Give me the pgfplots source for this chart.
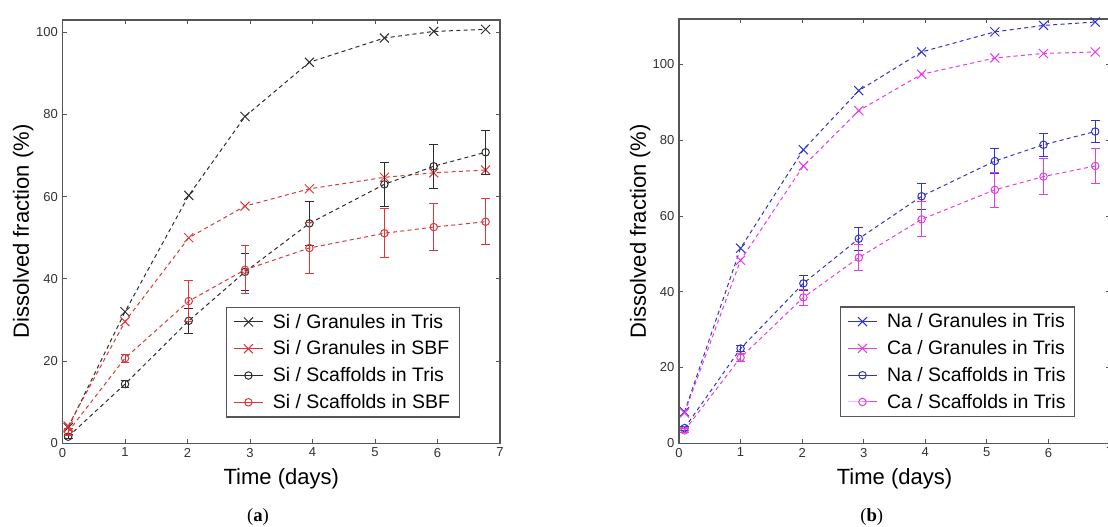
\documentclass[border=0pt]{standalone}
\usepackage{fontspec}
\setmainfont{Liberation Sans}
\newfontfamily\capfont{Liberation Serif}
\usepackage{pgfplots}
\pgfplotsset{compat=1.18}

\definecolor{axgray}{RGB}{85,85,85}
\definecolor{lblgray}{RGB}{50,50,50}
\definecolor{cblack}{RGB}{45,45,45}
\definecolor{cred}{RGB}{222,55,55}
\definecolor{cblue}{RGB}{50,50,205}
\definecolor{cmag}{RGB}{228,60,228}

\pgfplotsset{
  dissax/.style={
    scale only axis,
    xmin=0, xmax=7, ymin=0,
    xtick={0,1,...,7}, ytick={0,20,...,100},
    tick align=inside, major tick length=3pt,
    axis line style={draw=axgray, line width=0.9pt},
    every tick/.style={axgray, line width=0.7pt},
    tick label style={font=\fontsize{9.75}{11}\selectfont, text=lblgray},
    /pgf/number format/assume math mode=true,
    xlabel={Time (days)}, ylabel={Dissolved fraction (\%)},
    label style={font=\fontsize{16.5}{19}\selectfont},
    xlabel style={at={(axis description cs:0.5,-0.083)}, anchor=center},
    ylabel style={at={(axis description cs:-0.09,0.5)}, anchor=center},
    clip mode=individual,
    legend style={at={(0.3737,0.3227)}, anchor=north west, draw=axgray,
      line width=0.9pt, font=\fontsize{14.6}{17}\selectfont,
      row sep=4pt, column sep=5pt, inner xsep=5pt, inner ysep=3pt},
    legend cell align=left,
    legend image code/.code={
      \draw[solid, mark repeat=2, mark phase=2]
        plot coordinates {(0pt,0pt) (11pt,0pt) (22pt,0pt)};},
  },
  ser/.style={color=#1, line width=0.75pt, dash pattern=on 3pt off 2.5pt,
    mark options={solid, line width=0.75pt}},
  serx/.style={ser=#1, mark=x, mark size=4.8pt},
  sero/.style={ser=#1, mark=o, mark size=2.8pt,
    error bars/y dir=both, error bars/y explicit,
    error bars/error mark=-,
    error bars/error bar style={solid, line width=0.75pt, draw=#1},
    error bars/error mark options={solid, rotate=90, mark size=3.3pt,
      line width=0.75pt, draw=#1}},
}

\begin{document}
\begin{tikzpicture}
\useasboundingbox (0,0) rectangle (831pt,395.25pt);
\clip (0,0) rectangle (831pt,395.25pt);

% (a) silicon release
\begin{axis}[dissax, at={(46.9pt,62.8pt)}, anchor=south west,
  width=328.1pt, height=317.5pt, ymax=103]
\addplot[serx=cblack] coordinates {
  (0.09,3.8) (1.0,32.0) (2.02,60.3) (2.92,79.5) (3.95,92.7) (5.15,98.6) (5.94,100.2) (6.77,100.7)};
\addlegendentry{Si / Granules in Tris}
\addplot[serx=cred] coordinates {
  (0.09,4.2) (1.0,29.6) (2.02,50.0) (2.92,57.7) (3.95,61.9) (5.15,64.7) (5.94,65.8) (6.77,66.5)};
\addlegendentry{Si / Granules in SBF}
\addplot[sero=cblack] coordinates {
  (0.09,1.6) +- (0,0.5) (1.0,14.4) +- (0,0.8) (2.02,29.8) +- (0,3.0) (2.92,41.7) +- (0,4.5)
  (3.95,53.5) +- (0,5.3) (5.15,63.0) +- (0,5.4) (5.94,67.4) +- (0,5.3) (6.77,70.8) +- (0,5.4)};
\addlegendentry{Si / Scaffolds in Tris}
\addplot[sero=cred] coordinates {
  (0.09,2.8) +- (0,0.8) (1.0,20.7) +- (0,1.0) (2.02,34.6) +- (0,4.9) (2.92,42.2) +- (0,5.8)
  (3.95,47.5) +- (0,6.1) (5.15,51.1) +- (0,5.9) (5.94,52.6) +- (0,5.7) (6.77,53.9) +- (0,5.6)};
\addlegendentry{Si / Scaffolds in SBF}
\end{axis}

% (b) sodium and calcium release
\begin{axis}[dissax, at={(509.25pt,62.8pt)}, anchor=south west,
  width=323.25pt, height=318.2pt, ymax=112]
\addplot[serx=cblue] coordinates {
  (0.09,8.3) (1.0,51.5) (2.02,77.5) (2.92,93.1) (3.94,103.3) (5.13,108.6) (5.92,110.3) (6.76,111.2)};
\addlegendentry{Na / Granules in Tris}
\addplot[serx=cmag] coordinates {
  (0.09,8.0) (1.0,48.3) (2.02,73.2) (2.92,87.8) (3.94,97.4) (5.13,101.7) (5.92,102.9) (6.76,103.3)};
\addlegendentry{Ca / Granules in Tris}
\addplot[sero=cblue] coordinates {
  (0.09,4.0) +- (0,0.5) (1.0,25.0) +- (0,0.8) (2.02,42.2) +- (0,2.0) (2.92,54.0) +- (0,3.0)
  (3.94,65.2) +- (0,3.4) (5.13,74.5) +- (0,3.2) (5.92,78.8) +- (0,3.1) (6.76,82.3) +- (0,2.9)};
\addlegendentry{Na / Scaffolds in Tris}
\addplot[sero=cmag] coordinates {
  (0.09,3.4) +- (0,0.5) (1.0,22.6) +- (0,1.0) (2.02,38.5) +- (0,2.1) (2.92,49.0) +- (0,3.5)
  (3.94,59.1) +- (0,4.6) (5.13,66.9) +- (0,4.6) (5.92,70.4) +- (0,4.8) (6.76,73.2) +- (0,4.6)};
\addlegendentry{Ca / Scaffolds in Tris}
\end{axis}

\node[font=\capfont\fontsize{14}{16}\selectfont] at (193.5pt,7.7pt) {(\textbf{a})};
\node[font=\capfont\fontsize{14}{16}\selectfont] at (653.8pt,7.7pt) {(\textbf{b})};
\end{tikzpicture}
\end{document}
